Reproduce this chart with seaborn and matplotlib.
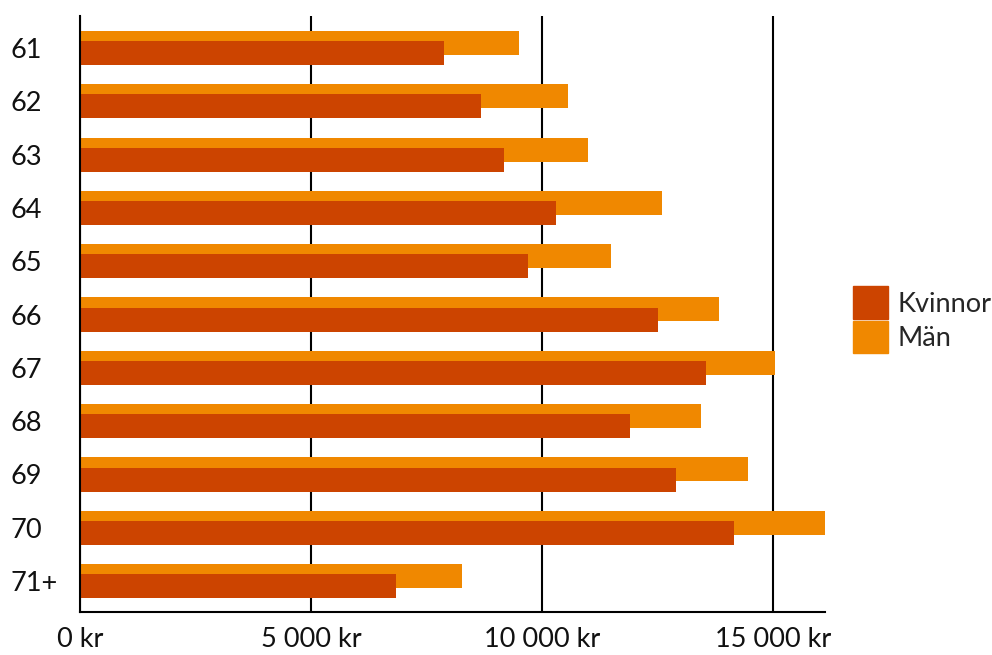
import matplotlib
matplotlib.use("Agg")
import matplotlib.pyplot as plt
import matplotlib.patches as mpatches
import seaborn as sns
import pandas as pd

# Data
ages = ["61", "62", "63", "64", "65", "66", "67", "68", "69", "70", "71+"]
kvinnor = [7880, 8680, 9180, 10300, 9700, 12510, 13550, 11900, 12900, 14160, 6840]
man = [9500, 10560, 11000, 12600, 11490, 13830, 15040, 13440, 14460, 16130, 8270]
xticks = [0, 5000, 10000, 15000]
xticklabels = ["0 kr", "5 000 kr", "10 000 kr", "15 000 kr"]

col_k = "#cc4400"
col_m = "#f08800"

sns.set_style("white")
plt.rcParams["font.family"] = ["Lato", "DejaVu Sans"]

df = pd.DataFrame({"age": ages, "Kvinnor": kvinnor, "Män": man})

fig = plt.figure(figsize=(9.92, 6.55), dpi=100)
ax = fig.add_axes([0.0806, 0.0656, 0.751, 0.91])

bar_h = 0.45
shift = 0.095

# Män first (behind), shifted up
sns.barplot(data=df, x="Män", y="age", color=col_m, width=bar_h,
            saturation=1, orient="h", ax=ax)
n_m = len(ax.patches)
for p in ax.patches:
    p.set_y(p.get_y() - shift)
    p.set_linewidth(0)

# Kvinnor on top, shifted down
sns.barplot(data=df, x="Kvinnor", y="age", color=col_k, width=bar_h,
            saturation=1, orient="h", ax=ax)
for p in ax.patches[n_m:]:
    p.set_y(p.get_y() + shift)
    p.set_linewidth(0)

ax.set_xlim(0, max(man))
ax.set_ylim(len(ages) - 1 + 0.58, -0.6)

ax.set_xticks(xticks)
ax.set_xticklabels(xticklabels)
ax.set_xlabel("")
ax.set_ylabel("")

ax.set_axisbelow(True)
ax.grid(axis="x", color="black", linewidth=1.5)
ax.grid(axis="y", visible=False)

for s in ["top", "right"]:
    ax.spines[s].set_visible(False)
for s in ["left", "bottom"]:
    ax.spines[s].set_color("black")
    ax.spines[s].set_linewidth(1.5)

ax.tick_params(axis="x", length=0, pad=11, labelsize=19.5, labelcolor="#111111")
ax.tick_params(axis="y", length=0, pad=50, labelsize=19.5, labelcolor="#111111")
for lab in ax.get_yticklabels():
    lab.set_horizontalalignment("left")

handles = [mpatches.Patch(color=col_k, label="Kvinnor"),
           mpatches.Patch(color=col_m, label="Män")]
ax.legend(handles=handles, loc="center left", bbox_to_anchor=(1.0376, 0.49),
          frameon=False, fontsize=19.5, borderpad=0, borderaxespad=0,
          handlelength=1.3, handleheight=1.45, labelspacing=0.1,
          handletextpad=0.35)

fig.savefig("out.png", dpi=100)
